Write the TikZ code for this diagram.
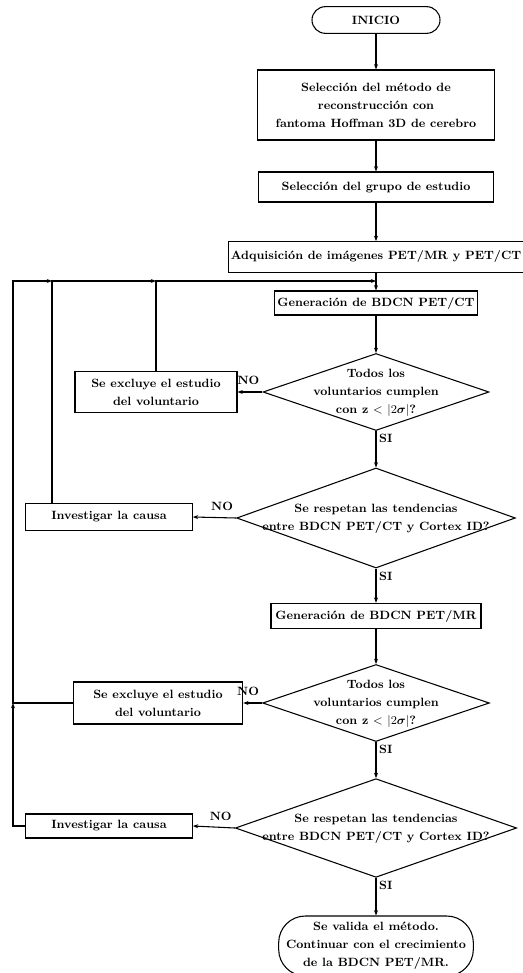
\documentclass[tikz,border=0pt]{standalone}
\usepackage{tikz}
\usetikzlibrary{shapes, arrows.meta, positioning, calc}
\usepackage{amsmath, amssymb}

\tikzset{
  proc/.style={draw, rectangle, line width=0.8pt, align=center, inner sep=2pt,
    font=\fontsize{9}{13.5}\selectfont\bfseries},
  term/.style={draw, rectangle, rounded corners=10pt, line width=0.8pt, align=center, inner sep=2pt,
    font=\fontsize{9}{13.5}\selectfont\bfseries},
  decision/.style={draw, diamond, line width=0.8pt, inner sep=0pt,
    font=\fontsize{9}{13.5}\selectfont\bfseries},
  flow/.style={line width=0.8pt, -{Stealth[length=4pt, width=3pt]}},
  tag/.style={font=\fontsize{9}{11}\selectfont\bfseries, inner sep=2pt}
}
\newcommand{\dtext}[1]{\makebox[0pt]{\begin{tabular}{@{}c@{}}#1\end{tabular}}}

\begin{document}
\begin{tikzpicture}[x=0.75pt, y=-0.75pt]
  \useasboundingbox (0,0) rectangle (522,973);

  % main column
  \node[term, minimum width=96pt, minimum height=20pt] (inicio) at (376,20) {INICIO};
  \node[proc, minimum width=178pt, minimum height=52.5pt] (metodo) at (376,105)
    {Selección del método de\\ reconstrucción con\\ fantoma Hoffman 3D de cerebro};
  \node[proc, minimum width=176pt, minimum height=22.5pt] (grupo) at (376,187) {Selección del grupo de estudio};
  \node[proc, minimum width=217.5pt, minimum height=23pt] (adq) at (376,257) {Adquisición de imágenes PET/MR y PET/CT};
  \node[proc, minimum width=151.5pt, minimum height=18pt] (bdcnct) at (376,303) {Generación de BDCN PET/CT};
  \node[decision, minimum width=169.5pt, minimum height=57.75pt] (zct) at (376,392)
    {\dtext{Todos los\\ voluntarios cumplen\\ con z $<$ $|2\boldsymbol{\sigma}|$?}};
  \node[decision, minimum width=209pt, minimum height=75pt] (tendct) at (376,518)
    {\dtext{Se respetan las tendencias\\ entre BDCN PET/CT y Cortex ID?}};
  \node[proc, minimum width=157.5pt, minimum height=19pt] (bdcnmr) at (376,616) {Generación de BDCN PET/MR};
  \node[decision, minimum width=170pt, minimum height=57.75pt] (zmr) at (376,703)
    {\dtext{Todos los\\ voluntarios cumplen\\ con z $<$ $|2\boldsymbol{\sigma}|$?}};
  \node[decision, minimum width=211pt, minimum height=74pt] (tendmr) at (376,828)
    {\dtext{Se respetan las tendencias\\ entre BDCN PET/CT y Cortex ID?}};
  \node[term, rounded corners=20pt, minimum width=146pt, minimum height=45pt] (fin) at (376,946)
    {Se valida el método.\\ Continuar con el crecimiento\\ de la BDCN PET/MR.};

  % side boxes
  \node[proc, minimum width=121.5pt, minimum height=31pt] (exc1) at (156,392) {Se excluye el estudio\\ del voluntario};
  \node[proc, minimum width=125pt, minimum height=20pt] (inv1) at (109,517) {Investigar la causa};
  \node[proc, minimum width=127pt, minimum height=31.5pt] (exc2) at (158,703) {Se excluye el estudio\\ del voluntario};
  \node[proc, minimum width=125pt, minimum height=18pt] (inv2) at (109,826) {Investigar la causa};

  % junctions of the return lines
  \coordinate (merge) at (376,281);
  \coordinate (j1) at (156,281);
  \coordinate (j2) at (52,281);
  \coordinate (j3) at (13,703);

  % forward flow
  \draw[flow] (inicio) -- (metodo);
  \draw[flow] (metodo) -- (grupo);
  \draw[flow] (grupo) -- (adq);
  \draw[flow] (adq) -- (bdcnct);
  \draw[flow] (bdcnct) -- (zct);
  \draw[flow] (zct.south) -- node[tag, pos=0, anchor=north west]{SI} (tendct.north);
  \draw[flow] (tendct.south) -- node[tag, pos=0, anchor=north west]{SI} (bdcnmr);
  \draw[flow] (bdcnmr) -- (zmr);
  \draw[flow] (zmr.south) -- node[tag, pos=0, anchor=north west]{SI} (tendmr.north);
  \draw[flow] (tendmr.south) -- node[tag, pos=0, anchor=north west]{SI} (fin);

  % NO branches
  \draw[flow] (zct.west) -- node[tag, pos=0, anchor=south east, yshift=3pt]{NO} (exc1.east);
  \draw[flow] (tendct.west) -- node[tag, pos=0, anchor=south east, yshift=3pt]{NO} (inv1.east);
  \draw[flow] (zmr.west) -- node[tag, pos=0, anchor=south east, yshift=3pt]{NO} (exc2.east);
  \draw[flow] (tendmr.west) -- node[tag, pos=0, anchor=south east, yshift=3pt]{NO} (inv2.east);

  % return lines
  \draw[flow] (exc1.north) -- (j1) -- (merge);
  \draw[flow] (j2 |- inv1.north) -- (j2) -- (j1);
  \draw[flow] (exc2.west) -| (j3 |- j2) -- (j2);
  \draw[flow] (inv2.west) -| (j3);
\end{tikzpicture}
\end{document}
